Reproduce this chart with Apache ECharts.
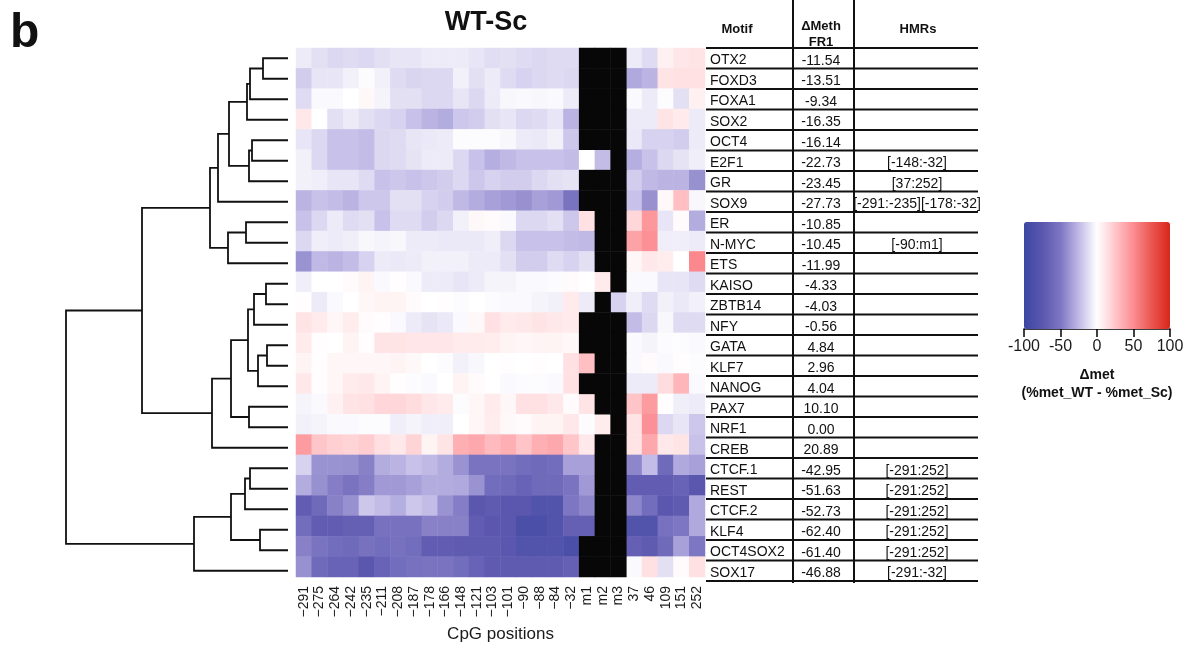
<!DOCTYPE html>
<html>
<head>
<meta charset="utf-8">
<script src="https://cdn.jsdelivr.net/npm/echarts@6/dist/echarts.min.js"></script>
<style>
html,body{margin:0;padding:0;background:#fff;}
#chart{width:1189px;height:648px;}
</style>
</head>
<body>
<div id="chart"></div>
<script>
// ---- DATA ----
const positions = ['\u2212291','\u2212275','\u2212264','\u2212242','\u2212235','\u2212211','\u2212208','\u2212187','\u2212178','\u2212166','\u2212148','\u2212121','\u2212103','\u2212101','\u221290','\u221288','\u221284','\u221232','m1','m2','m3','37','46','109','151','252'];
const motifs = ['OTX2','FOXD3','FOXA1','SOX2','OCT4','E2F1','GR','SOX9','ER','N-MYC','ETS','KAISO','ZBTB14','NFY','GATA','KLF7','NANOG','PAX7','NRF1','CREB','CTCF.1','REST','CTCF.2','KLF4','OCT4SOX2','SOX17'];
const deltaMeth = ['-11.54','-13.51','-9.34','-16.35','-16.14','-22.73','-23.45','-27.73','-10.85','-10.45','-11.99','-4.33','-4.03','-0.56','4.84','2.96','4.04','10.10','0.00','20.89','-42.95','-51.63','-52.73','-62.40','-61.40','-46.88'];
const hmrs = ['','','','','','[-148:-32]','[37:252]','[-291:-235][-178:-32]','','[-90:m1]','','','','','','','','','','','[-291:252]','[-291:252]','[-291:252]','[-291:252]','[-291:252]','[-291:-32]'];
// delta methylation per motif row (null = not available, drawn black)
const cellValues = [
 [-7,-11,-14,-13,-14,-11,-9,-9,-7,-7,-7,-9,-12,-11,-13,-14,-13,-13,null,null,null,-7,-13,6,11,12],
 [-18,-9,-9,-5,-1,-5,-13,-15,-14,-14,-5,-11,-7,-13,-16,-14,-13,-14,null,null,null,-31,-27,12,13,13],
 [-13,-2,-2,0,3,-4,-11,-11,-14,-14,-9,-14,-7,-3,-2,-3,-2,-7,null,null,null,-2,-7,-1,-11,6],
 [10,0,-11,-7,-11,-14,-16,-22,-27,-30,-20,-18,-11,-9,-14,-13,-9,-27,null,null,null,-7,-7,12,9,-7],
 [-9,-14,-22,-22,-24,-14,-13,-9,-8,-7,-1,-1,-1,-3,-7,-8,-5,-20,null,null,null,-8,-16,-16,-18,-7],
 [-5,-14,-22,-22,-24,-14,-13,-10,-7,-7,-14,-22,-29,-25,-22,-22,-22,-24,0,-24,null,-29,-22,-14,-10,-6],
 [-5,-6,-9,-9,-13,-22,-20,-22,-20,-18,-14,-20,-16,-18,-18,-14,-11,-10,null,null,null,-18,-25,-27,-27,-40],
 [-27,-22,-24,-27,-20,-20,-11,-11,-16,-18,-25,-30,-34,-37,-40,-34,-37,-52,null,null,null,-22,-40,3,28,-3],
 [-22,-14,-7,-13,-11,-22,-13,-13,-18,-14,-5,3,2,-2,-14,-14,-11,-20,13,null,null,18,45,-9,2,-30],
 [-14,-6,-7,-6,-3,-4,-3,-7,-7,-8,-8,-8,-6,-14,-22,-22,-22,-24,-25,null,null,40,48,-6,-6,-7],
 [-39,-25,-27,-24,-16,-7,-8,-7,-5,-5,-5,-7,-7,-11,-18,-18,-13,-16,-11,null,null,4,10,8,0,52],
 [-6,0,0,2,5,-2,1,-2,-7,-7,-9,-7,-4,-4,-2,-2,-1,2,0,9,null,-2,-2,-9,-9,-13],
 [1,-7,-2,0,4,5,5,2,0,1,-1,0,-1,-2,-2,-4,-5,9,-7,null,-16,-6,-13,-5,-8,-5],
 [12,9,4,8,2,1,-2,-7,-10,-8,-2,3,13,9,10,12,10,9,null,null,null,-24,-14,-3,-13,-13],
 [9,1,0,5,1,12,12,11,11,11,9,9,8,5,4,5,5,3,null,null,null,-2,-4,-1,-1,-2],
 [5,1,4,4,4,4,5,3,0,-1,-5,-3,0,1,0,1,0,13,28,null,null,-2,2,-2,1,-1],
 [10,1,4,9,10,5,1,-1,-2,0,5,2,0,-2,-1,-1,-2,13,null,null,null,-7,-7,15,32,-2],
 [-4,-2,6,12,13,18,18,15,11,9,-1,4,9,4,13,13,10,2,12,null,null,26,43,1,-6,-7],
 [-5,-4,-2,-2,-1,-1,-6,-4,-6,-6,0,4,8,3,2,5,5,10,-1,8,null,12,48,-14,-9,-20],
 [43,25,21,19,22,14,10,19,5,12,35,38,30,35,26,35,38,25,10,null,null,12,38,10,12,-22],
 [-16,-39,-39,-40,-46,-30,-27,-22,-25,-30,-39,-52,-52,-52,-57,-60,-57,-34,-34,null,null,-44,-24,-60,-31,-34],
 [-30,-40,-47,-52,-47,-37,-37,-34,-30,-30,-31,-39,-57,-60,-65,-60,-60,-52,-37,null,null,-70,-70,-70,-65,-75],
 [-70,-60,-46,-40,-20,-24,-29,-20,-24,-39,-47,-75,-72,-75,-75,-82,-82,-50,-44,null,null,-44,-57,-75,-72,-31],
 [-57,-70,-70,-68,-68,-54,-54,-54,-46,-46,-46,-70,-75,-75,-88,-88,-82,-68,-68,null,null,-82,-82,-54,-50,-31],
 [-46,-52,-57,-60,-54,-57,-54,-57,-70,-70,-72,-72,-72,-75,-82,-82,-82,-88,null,null,null,-68,-72,-60,-34,-50],
 [-40,-60,-65,-65,-75,-65,-57,-54,-52,-52,-57,-65,-72,-72,-72,-72,-72,-68,null,null,null,-2,13,-11,2,13]
];
// hierarchical clustering merges: [childA, childB, height]; leaves 0..25, merged nodes 26..
const dendroMerges = [
 [0,1,25],[26,2,38],[27,3,41],[4,5,36],[29,6,39],[28,30,59],[31,7,70],
 [8,9,42],[33,10,60],[32,34,78],
 [11,12,22],[36,13,34],[14,15,21],[38,16,30],[37,39,40],[17,18,39],[40,41,57],[42,19,76],
 [35,43,146],
 [20,21,38],[45,22,43],[23,24,28],[46,47,57],[48,25,94],
 [44,49,222]
];
const scaleTicks = [-100,-50,0,50,100];

// ---- BUILD ----
const FONT = 'Liberation Sans, Arial, Helvetica, sans-serif';
const heatData = [], naData = [];
cellValues.forEach((row, r) => row.forEach((v, c) => {
  if (v === null) naData.push([c, r, 0]); else heatData.push([c, r, v]);
}));
const nodePos = motifs.map((m, i) => i), nodeH = motifs.map(() => 0);
const dendroData = dendroMerges.map(([a, b, h]) => {
  const item = [nodePos[a], nodeH[a], nodePos[b], nodeH[b], h];
  nodePos.push((nodePos[a] + nodePos[b]) / 2); nodeH.push(h);
  return item;
});
const nRows = motifs.length;

const chart = echarts.init(document.getElementById('chart'), null, {renderer: 'canvas'});
const tableW = 272, colMotifX = 4, colSep1 = 87, colDeltaX = 115, colSep2 = 148, colHmrX = 211;

chart.setOption({
  animation: false,
  textStyle: {fontFamily: FONT},
  grid: [
    {left: 296, top: 48, width: 409, height: 533},
    {left: 66, top: 48, width: 222, height: 533},
    {left: 706, top: 48, width: tableW, height: 533},
    {left: 1024, top: 222, width: 146, height: 107}
  ],
  xAxis: [
    {gridIndex: 0, type: 'category', data: positions, position: 'bottom',
     axisLine: {show: false}, axisTick: {show: false}, splitLine: {show: false},
     axisLabel: {rotate: 90, fontSize: 14, color: '#1a1a1a', margin: 9, interval: 0, fontFamily: FONT},
     name: 'CpG positions', nameLocation: 'middle', nameGap: 49,
     nameTextStyle: {fontSize: 17, color: '#1a1a1a', fontFamily: FONT}},
    {gridIndex: 1, type: 'value', min: 0, max: 222, inverse: true, show: false},
    {gridIndex: 2, type: 'value', min: 0, max: tableW, show: false},
    {gridIndex: 3, type: 'value', min: scaleTicks[0], max: scaleTicks[scaleTicks.length - 1], interval: 50, position: 'bottom',
     axisLine: {show: true, onZero: false, lineStyle: {color: '#000', width: 1.5}},
     axisTick: {show: true, inside: false, length: 8, lineStyle: {color: '#000', width: 1.5}},
     splitLine: {show: false},
     axisLabel: {fontSize: 16, color: '#1a1a1a', margin: 10, fontFamily: FONT,
       formatter: v => String(v)}}
  ],
  yAxis: [
    {gridIndex: 0, type: 'category', data: motifs, inverse: true, show: false},
    {gridIndex: 1, type: 'value', min: -0.5, max: nRows - 0.5, inverse: true, show: false},
    {gridIndex: 2, type: 'value', min: -0.5, max: nRows - 0.5, inverse: true, show: false},
    {gridIndex: 3, type: 'value', min: 0, max: 1, show: false}
  ],
  visualMap: {
    type: 'continuous', seriesIndex: 0, min: -100, max: 100, calculable: false,
    orient: 'horizontal', left: 1024, top: 222, itemWidth: 107, itemHeight: 146,
    padding: 0, hoverLink: false, realtime: false, showLabel: false,
    inRange: {color: ['#3c47a2','#5b57af','#7d76c2','#c0b9e6','#ffffff','#ffc6ca','#fb8c91','#ea5650','#d8261c']}
  },
  graphic: [
    {type: 'text', left: 10, top: 10, style: {text: 'b', font: 'bold 48px ' + FONT, fill: '#111'}},
    {type: 'text', x: 486, y: 23, style: {text: 'WT-Sc', font: 'bold 27px ' + FONT, fill: '#111', align: 'center', verticalAlign: 'middle'}},
    {type: 'text', x: 737, y: 29, style: {text: 'Motif', font: 'bold 13px ' + FONT, fill: '#111', align: 'center', verticalAlign: 'middle'}},
    {type: 'text', x: 821, y: 26, style: {text: '\u0394Meth', font: 'bold 13px ' + FONT, fill: '#111', align: 'center', verticalAlign: 'middle'}},
    {type: 'text', x: 821, y: 42, style: {text: 'FR1', font: 'bold 13px ' + FONT, fill: '#111', align: 'center', verticalAlign: 'middle'}},
    {type: 'text', x: 918, y: 29, style: {text: 'HMRs', font: 'bold 13px ' + FONT, fill: '#111', align: 'center', verticalAlign: 'middle'}},
    {type: 'text', x: 1097, y: 375, style: {text: '\u0394met', font: 'bold 14px ' + FONT, fill: '#111', align: 'center', verticalAlign: 'middle'}},
    {type: 'text', x: 1097, y: 393, style: {text: '(%met_WT - %met_Sc)', font: 'bold 14px ' + FONT, fill: '#111', align: 'center', verticalAlign: 'middle'}}
  ],
  series: [
    {type: 'heatmap', xAxisIndex: 0, yAxisIndex: 0, data: heatData, emphasis: {disabled: true}, itemStyle: {borderWidth: 0}},
    {type: 'heatmap', xAxisIndex: 0, yAxisIndex: 0, data: naData, emphasis: {disabled: true}, itemStyle: {color: '#070707', borderWidth: 0}},
    {type: 'custom', xAxisIndex: 1, yAxisIndex: 1, data: dendroData, silent: true,
     renderItem: (params, api) => {
       const pa = api.value(0), ha = api.value(1), pb = api.value(2), hb = api.value(3), h = api.value(4);
       return {type: 'polyline', shape: {points: [api.coord([ha, pa]), api.coord([h, pa]), api.coord([h, pb]), api.coord([hb, pb])]},
         style: {stroke: '#111', lineWidth: 1.8, fill: null}};
     }},
    {type: 'custom', xAxisIndex: 2, yAxisIndex: 2, data: motifs.map((m, i) => [i]), silent: true,
     renderItem: (params, api) => {
       const i = api.value(0);
       const cy = api.coord([0, i])[1];
       const yb = api.coord([0, i + 0.5])[1];
       const x0 = api.coord([0, i])[0], x1 = api.coord([tableW, i])[0];
       const children = [
         {type: 'line', shape: {x1: x0, y1: yb, x2: x1, y2: yb}, style: {stroke: '#111', lineWidth: 2}},
         {type: 'text', style: {text: motifs[i], x: api.coord([colMotifX, i])[0], y: cy + 2, font: '14px ' + FONT, fill: '#111', align: 'left', verticalAlign: 'middle'}},
         {type: 'text', style: {text: deltaMeth[i], x: api.coord([colDeltaX, i])[0], y: cy + 2.5, font: '14px ' + FONT, fill: '#111', align: 'center', verticalAlign: 'middle'}},
         {type: 'text', style: {text: hmrs[i], x: api.coord([colHmrX, i])[0], y: cy + 2.5, font: '14px ' + FONT, fill: '#111', align: 'center', verticalAlign: 'middle'}}
       ];
       if (i === 0) {
         const yt = api.coord([0, -0.5])[1];
         const ybot = api.coord([0, nRows - 0.5])[1] + 2;
         children.push({type: 'line', shape: {x1: x0, y1: yt, x2: x1, y2: yt}, style: {stroke: '#111', lineWidth: 2}});
         [colSep1, colSep2].forEach(cx => {
           const xx = api.coord([cx, 0])[0];
           children.push({type: 'line', shape: {x1: xx, y1: 0, x2: xx, y2: ybot}, style: {stroke: '#111', lineWidth: 2}});
         });
       }
       return {type: 'group', children};
     }},
    {type: 'scatter', xAxisIndex: 3, yAxisIndex: 3, data: [], silent: true}
  ]
});
</script>
</body>
</html>
